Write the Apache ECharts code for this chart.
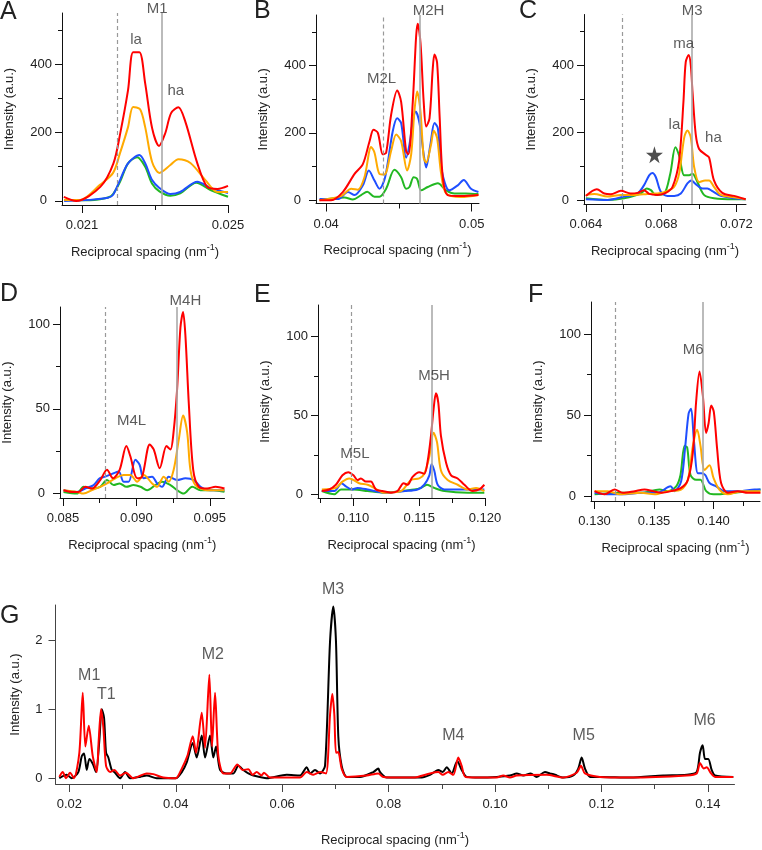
<!DOCTYPE html>
<html><head><meta charset="utf-8">
<script src="https://cdn.jsdelivr.net/npm/echarts@6/dist/echarts.min.js"></script>
<style>html,body{margin:0;padding:0;background:#fff}#c{width:762px;height:850px}</style>
</head><body><div id="c"></div>
<script>
// ---------------- DATA ----------------
// Panel A
const A_red = [[0.0205,12],[0.02084,0],[0.0215,41],[0.02186,110],[0.02205,200],[0.02226,324],[0.0224,435],[0.02257,435],[0.02273,344],[0.02292,213],[0.02311,161],[0.02328,198],[0.02344,257],[0.02364,274],[0.02383,232],[0.02416,110],[0.02443,41],[0.02471,35],[0.025,44]];
const A_orange = [[0.02051,3],[0.02095,3],[0.02149,47],[0.02185,82],[0.02204,140],[0.02226,216],[0.0224,275],[0.02259,268],[0.02273,216],[0.02292,114],[0.02312,82],[0.02342,105],[0.02364,122],[0.02397,111],[0.02438,61],[0.02471,26],[0.025,26]];
const A_blue = [[0.02051,0],[0.02122,3],[0.02171,9],[0.02185,18],[0.02204,61],[0.02226,110],[0.02257,134],[0.02273,110],[0.02292,61],[0.02312,38],[0.02342,20],[0.02369,26],[0.02416,56],[0.02452,38],[0.025,23]];
const A_green = [[0.02051,2],[0.02122,2],[0.02171,10],[0.02185,20],[0.02204,56],[0.02226,110],[0.02251,128],[0.02273,100],[0.02292,50],[0.02312,28],[0.02342,15],[0.02369,22],[0.02413,53],[0.02452,32],[0.025,12]];
const A_xTicks = [0.021, 0.025], A_xLabels = ['0.021', '0.025'], A_xMinor = [0.023];
const A_yTicks = [0, 200, 400], A_yLabels = ['0', '200', '400'], A_yMinor = [100, 300, 500];
const A_lines = [0.02197, 0.02319];
const A_notes = [['M1', 0.02306, 563], ['la', 0.02248, 470], ['ha', 0.02357, 321]];

// Panel B
const B_red = [[0.03954,0],[0.04034,0],[0.04114,24],[0.04195,78],[0.04252,107],[0.04298,175],[0.04325,209],[0.04355,200],[0.04389,136],[0.04412,141],[0.04446,253],[0.04488,326],[0.04515,292],[0.04549,146],[0.04565,136],[0.04595,292],[0.04618,487],[0.04629,524],[0.04648,467],[0.0467,292],[0.04687,219],[0.0471,243],[0.04732,389],[0.04744,433],[0.04762,409],[0.0478,243],[0.04801,68],[0.04835,15],[0.04927,12],[0.05046,15]];
const B_orange = [[0.03954,0],[0.04103,12],[0.04172,34],[0.04217,31],[0.04263,68],[0.04309,158],[0.04332,141],[0.04366,78],[0.044,76],[0.04446,146],[0.04481,195],[0.04515,175],[0.04556,88],[0.04584,136],[0.04606,263],[0.04625,323],[0.04648,263],[0.0467,126],[0.04687,112],[0.04721,166],[0.04739,206],[0.04762,185],[0.0479,78],[0.04824,20],[0.04927,9],[0.05046,15]];
const B_blue = [[0.03954,3],[0.0408,3],[0.04149,24],[0.04195,15],[0.04252,44],[0.04293,88],[0.04332,58],[0.04366,34],[0.04405,68],[0.04457,204],[0.04488,243],[0.04515,229],[0.04549,126],[0.04572,165],[0.04595,233],[0.04615,263],[0.04641,229],[0.0467,136],[0.04687,97],[0.04716,165],[0.04744,229],[0.04767,214],[0.04794,88],[0.04847,29],[0.04904,44],[0.04945,60],[0.04995,34],[0.05046,24]];
const B_green = [[0.03954,0],[0.04126,8],[0.04183,2],[0.0424,15],[0.04282,25],[0.04332,10],[0.04366,10],[0.04412,34],[0.04469,90],[0.04515,68],[0.04549,34],[0.04572,39],[0.04601,68],[0.04625,63],[0.04652,29],[0.04698,39],[0.04767,50],[0.04824,29],[0.04881,20],[0.0496,20],[0.05046,18]];
const B_xTicks = [0.04, 0.05], B_xLabels = ['0.04', '0.05'], B_xMinor = [0.045];
const B_yTicks = [0, 200, 400], B_yLabels = ['0', '200', '400'], B_yMinor = [100, 300, 500];
const B_lines = [0.04394, 0.04641];
const B_notes = [['M2H', 0.04703, 562], ['M2L', 0.0438, 359]];

// Panel C
const C_red = [[0.064,12],[0.06458,32],[0.06498,19],[0.06532,17],[0.06586,27],[0.06638,19],[0.06674,21],[0.06709,29],[0.06736,18],[0.0678,15],[0.06824,21],[0.0686,39],[0.06895,117],[0.06918,292],[0.0693,409],[0.06946,430],[0.06957,399],[0.06966,321],[0.06983,195],[0.07001,151],[0.07036,134],[0.07054,126],[0.0708,58],[0.07124,21],[0.07186,12],[0.07248,2]];
const C_orange = [[0.064,15],[0.06445,18],[0.06515,10],[0.06586,15],[0.06656,15],[0.06727,18],[0.06798,21],[0.06833,27],[0.06869,39],[0.06895,78],[0.06922,185],[0.06939,206],[0.06957,185],[0.06975,97],[0.07001,53],[0.07033,58],[0.07054,58],[0.0708,39],[0.07116,15],[0.07186,8],[0.07248,2]];
const C_blue = [[0.064,2],[0.06515,0],[0.06603,10],[0.06674,19],[0.06709,44],[0.06736,73],[0.06753,80],[0.06771,68],[0.06798,24],[0.06833,12],[0.06869,12],[0.06904,19],[0.06939,49],[0.0696,58],[0.06983,47],[0.07019,34],[0.07045,34],[0.07072,26],[0.07116,12],[0.07186,5],[0.07248,2]];
const C_green = [[0.064,5],[0.06515,0],[0.06603,5],[0.06691,19],[0.06723,34],[0.06745,29],[0.06771,15],[0.06816,19],[0.06848,78],[0.06875,156],[0.06895,131],[0.06922,73],[0.06948,73],[0.06966,78],[0.06992,53],[0.07027,15],[0.0708,5],[0.07186,2],[0.07248,2]];
const C_xTicks = [0.064, 0.068, 0.072], C_xLabels = ['0.064', '0.068', '0.072'], C_xMinor = [0.066, 0.070];
const C_yTicks = [0, 200, 400], C_yLabels = ['0', '200', '400'], C_yMinor = [100, 300, 500];
const C_lines = [0.06591, 0.0696];
const C_notes = [['M3', 0.06964, 561], ['ma', 0.06919, 464], ['la', 0.0687, 223], ['ha', 0.07077, 183]];
const C_star = [[0.06764, 134]];

// Panel D
const D_red = [[0.08504,2],[0.08561,1],[0.08606,1],[0.08652,4],[0.08698,3],[0.08754,8],[0.088,14],[0.08841,9],[0.08886,14],[0.08932,28],[0.08959,22],[0.09005,9],[0.09039,10],[0.09091,29],[0.09118,26],[0.09159,15],[0.09205,28],[0.09232,26],[0.09254,37],[0.09277,61],[0.093,98],[0.09318,107],[0.09334,93],[0.09357,53],[0.09387,14],[0.09425,4],[0.09482,3],[0.09539,4],[0.096,3]];
const D_orange = [[0.08504,2],[0.08595,1],[0.0864,0],[0.08698,2],[0.08754,4],[0.088,6],[0.08857,9],[0.08913,11],[0.08959,11],[0.09005,7],[0.0905,11],[0.09107,6],[0.09141,4],[0.09186,10],[0.0922,7],[0.09254,14],[0.09289,32],[0.09318,46],[0.09346,36],[0.09368,14],[0.09402,5],[0.09482,2],[0.096,2]];
const D_blue = [[0.08504,2],[0.08595,1],[0.08652,3],[0.08709,5],[0.0875,9],[0.08788,10],[0.08845,12],[0.0888,13],[0.08913,7],[0.08947,7],[0.08993,20],[0.09022,17],[0.0905,9],[0.09107,10],[0.09141,6],[0.09175,4],[0.0922,10],[0.09277,8],[0.09334,9],[0.09391,8],[0.09437,4],[0.09502,2],[0.096,2]];
const D_green = [[0.08504,1],[0.08595,0],[0.0864,4],[0.08698,3],[0.08754,4],[0.088,8],[0.08845,5],[0.08886,6],[0.08932,4],[0.0898,5],[0.09028,4],[0.09073,2],[0.09129,5],[0.09175,7],[0.09232,5],[0.09277,2],[0.09323,0],[0.0938,4],[0.09437,2],[0.09527,2],[0.096,1]];
const D_xTicks = [0.085, 0.090, 0.095], D_xLabels = ['0.085', '0.090', '0.095'], D_xMinor = [0.0875, 0.0925];
const D_yTicks = [0, 50, 100], D_yLabels = ['0', '50', '100'], D_yMinor = [25, 75];
const D_lines = [0.08788, 0.09277];
const D_notes = [['M4H', 0.09334, 113.8], ['M4L', 0.08967, 43.1]];

// Panel E
const E_red = [[0.10759,2],[0.10815,3],[0.10866,6],[0.10916,12],[0.1096,14],[0.110,12],[0.1103,9],[0.11056,10],[0.11094,8],[0.11132,8],[0.1117,3],[0.11221,2],[0.11285,1],[0.11335,2],[0.11381,7],[0.11411,6],[0.11449,11],[0.115,14],[0.11538,13],[0.11564,21],[0.11589,37],[0.11609,54],[0.11627,64],[0.11645,58],[0.11665,37],[0.11704,20],[0.11742,12],[0.11792,10],[0.11843,6],[0.11906,2],[0.11957,3],[0.11995,6]];
const E_orange = [[0.10759,3],[0.10866,4],[0.10916,8],[0.10967,10],[0.110,9],[0.11043,7],[0.11107,6],[0.11158,4],[0.1123,1],[0.11361,2],[0.11437,9],[0.115,10],[0.11538,13],[0.11577,24],[0.11609,39],[0.11635,33],[0.11665,15],[0.11716,9],[0.11792,6],[0.11869,3],[0.11932,4],[0.11995,2]];
const E_blue = [[0.10759,2],[0.10855,2],[0.10909,7],[0.10942,5],[0.10986,3],[0.1103,4],[0.11107,3],[0.11158,2],[0.1123,1],[0.11391,2],[0.11487,3],[0.11538,6],[0.11577,12],[0.11594,19],[0.11614,15],[0.1164,6],[0.11691,3],[0.11818,3],[0.11995,3]];
const E_green = [[0.10759,2],[0.10855,0],[0.10904,3],[0.110,3],[0.11107,2],[0.1123,1],[0.11462,3],[0.11513,4],[0.11559,6],[0.11614,4],[0.11691,2],[0.11869,1],[0.11995,1]];
const E_xTicks = [0.110, 0.115, 0.120], E_xLabels = ['0.110', '0.115', '0.120'], E_xMinor = [0.1075, 0.1125, 0.1175];
const E_yTicks = [0, 50, 100], E_yLabels = ['0', '50', '100'], E_yMinor = [25, 75];
const E_lines = [0.10982, 0.11597];
const E_notes = [['M5H', 0.11612, 75.1], ['M5L', 0.11011, 25.6]];

// Panel F
const F_red = [[0.130,3],[0.13084,1],[0.13168,4],[0.13238,2],[0.13336,3],[0.1342,4],[0.1349,3],[0.1356,2],[0.13643,3],[0.13727,5],[0.13784,10],[0.13826,27],[0.13853,58],[0.13882,77],[0.1391,62],[0.13937,39],[0.13958,45],[0.1398,56],[0.14002,52],[0.1403,29],[0.14063,8],[0.1412,2],[0.14204,3],[0.14288,2],[0.14394,2]];
const F_orange = [[0.130,3],[0.13112,3],[0.13213,1],[0.1339,2],[0.13504,1],[0.13616,3],[0.13727,4],[0.13784,10],[0.13826,31],[0.13862,41],[0.1389,31],[0.13924,16],[0.13966,19],[0.14,11],[0.14048,4],[0.1412,1],[0.14232,3],[0.14394,3]];
const F_blue = [[0.130,2],[0.13126,1],[0.13255,1],[0.1339,2],[0.1353,2],[0.13638,6],[0.13672,3],[0.13727,9],[0.13761,30],[0.1379,51],[0.13811,54],[0.13834,35],[0.13868,14],[0.13896,14],[0.13929,13],[0.13966,8],[0.14022,6],[0.14092,3],[0.14232,3],[0.14344,4],[0.14394,4]];
const F_green = [[0.130,1],[0.13213,2],[0.1339,2],[0.13546,4],[0.13616,3],[0.13686,6],[0.13722,13],[0.13756,31],[0.13778,30],[0.13806,13],[0.13853,10],[0.1389,10],[0.13938,3],[0.14,1],[0.14176,2],[0.14288,3],[0.14394,4]];
const F_xTicks = [0.130, 0.135, 0.140], F_xLabels = ['0.130', '0.135', '0.140'], F_xMinor = [0.1325, 0.1375, 0.1425];
const F_yTicks = [0, 50, 100], F_yLabels = ['0', '50', '100'], F_yMinor = [25, 75];
const F_lines = [0.13173, 0.1391];
const F_notes = [['M6', 0.13829, 90.4]];

// Panel G
const G_black = [[0.01812,0],[0.01951,0.05],[0.02045,0],[0.02169,0.09],[0.02233,0.32],[0.02276,0.36],[0.02327,0.12],[0.02376,0.28],[0.0244,0.21],[0.02502,0.09],[0.02564,0.55],[0.02609,1.0],[0.02652,0.88],[0.0269,0.37],[0.02733,0.30],[0.02797,0.12],[0.02859,0.08],[0.02953,0],[0.03047,0.09],[0.03141,0],[0.03328,0.02],[0.03454,0.04],[0.03642,0],[0.0383,0],[0.04,0],[0.04113,0.09],[0.04206,0.23],[0.04319,0.51],[0.04394,0.30],[0.04488,0.62],[0.0455,0.30],[0.04644,0.62],[0.04706,0.30],[0.04757,0.46],[0.04832,0.12],[0.04958,0.07],[0.05082,0.07],[0.05176,0.18],[0.0527,0.12],[0.05364,0.07],[0.05458,0.04],[0.05709,0],[0.06085,0.05],[0.06335,0.04],[0.06461,0.16],[0.06523,0.07],[0.06617,0.12],[0.06711,0.07],[0.06805,0.18],[0.06899,1.98],[0.06961,2.49],[0.07011,1.98],[0.07055,0.6],[0.07118,0.18],[0.07212,0.02],[0.07462,0.02],[0.07713,0.09],[0.07806,0.14],[0.07838,0.09],[0.07964,0.01],[0.08214,0.01],[0.0859,0.01],[0.08778,0.05],[0.08934,0.12],[0.09017,0.09],[0.09092,0.16],[0.09186,0.07],[0.0929,0.25],[0.09373,0.12],[0.09467,0.02],[0.09717,0.01],[0.10031,0.02],[0.10281,0.04],[0.10407,0.07],[0.10532,0.04],[0.1067,0.07],[0.10782,0.02],[0.10938,0.09],[0.11032,0.07],[0.11126,0.05],[0.11283,0.01],[0.1147,0.04],[0.11564,0.14],[0.11628,0.30],[0.1169,0.14],[0.11784,0.02],[0.11972,0.02],[0.12536,0.01],[0.13162,0.04],[0.13601,0.05],[0.13789,0.09],[0.13851,0.37],[0.13902,0.48],[0.13945,0.28],[0.14007,0.28],[0.14071,0.12],[0.14133,0.04],[0.14477,0.02]];
const G_red = [[0.01812,0.02],[0.01876,0.09],[0.01938,0],[0.02013,0.08],[0.02088,0],[0.02188,0.37],[0.02252,1.24],[0.02301,0.46],[0.02365,0.76],[0.0244,0.32],[0.02515,0.09],[0.02552,0.55],[0.02596,1.0],[0.02639,0.74],[0.0269,0.18],[0.02765,0.09],[0.02846,0.12],[0.02953,0.04],[0.03065,0.08],[0.03203,0],[0.03454,0.07],[0.03578,0.06],[0.03766,0.01],[0.04,0],[0.04113,0.14],[0.04217,0.32],[0.04319,0.61],[0.04381,0.37],[0.04488,0.95],[0.0455,0.44],[0.04631,1.50],[0.04681,0.46],[0.04738,1.24],[0.048,0.32],[0.04894,0.07],[0.0502,0.07],[0.05157,0.2],[0.05258,0.12],[0.05364,0.13],[0.05445,0.05],[0.05521,0.09],[0.0561,0.04],[0.05658,0.08],[0.05771,0.01],[0.06335,0.01],[0.06461,0.09],[0.06585,0.05],[0.06711,0.09],[0.06823,0.07],[0.06899,0.92],[0.06942,1.22],[0.0698,0.92],[0.07011,0.37],[0.07055,0.38],[0.07118,0.14],[0.07212,0.02],[0.07588,0.04],[0.07806,0.07],[0.079,0.02],[0.08464,0.01],[0.08778,0.07],[0.08934,0.09],[0.09017,0.05],[0.09122,0.09],[0.09216,0.05],[0.0931,0.30],[0.09373,0.18],[0.09448,0.02],[0.1003,0.01],[0.10155,0.04],[0.10281,0.01],[0.10407,0.04],[0.1097,0.05],[0.11283,0.01],[0.11534,0.08],[0.11615,0.18],[0.1169,0.07],[0.1197,0.02],[0.12536,0.01],[0.13601,0.04],[0.13789,0.07],[0.13851,0.22],[0.13922,0.14],[0.13977,0.16],[0.1406,0.07],[0.14133,0.02],[0.14477,0.02]];
const G_xTicks = [0.02, 0.04, 0.06, 0.08, 0.10, 0.12, 0.14], G_xLabels = ['0.02', '0.04', '0.06', '0.08', '0.10', '0.12', '0.14'], G_xMinor = [0.03, 0.05, 0.07, 0.09, 0.11, 0.13];
const G_yTicks = [0, 1, 2], G_yLabels = ['0', '1', '2'], G_yMinor = [];
const G_notes = [['M1', 0.02374, 1.487], ['T1', 0.02695, 1.213], ['M2', 0.04696, 1.787], ['M3', 0.06955, 2.734], ['M4', 0.09215, 0.622], ['M5', 0.11666, 0.622], ['M6', 0.13939, 0.83]];

// ---------------- STYLE / LAYOUT ----------------
const FONT = '"Liberation Sans", Arial, Helvetica, sans-serif';
const COL = { red: '#ff0000', orange: '#ffaa00', blue: '#1f4fff', green: '#22b822', black: '#000000' };
const TXT = '#222';
const STAR = 'path://M50,0 L61,35 L98,35 L68,57 L79,91 L50,70 L21,91 L32,57 L2,35 L39,35 Z';

const panels = [
  { letter: 'A', lp: [0, 12], grid: { left: 62, top: 13, width: 166, height: 192 }, x: [0.02045, 0.025], y: [-12, 550],
    xt: A_xTicks, xl: A_xLabels, xm: A_xMinor, yt: A_yTicks, yl: A_yLabels, ym: A_yMinor,
    curves: [['green', A_green], ['blue', A_blue], ['orange', A_orange], ['red', A_red]], lines: A_lines, notes: A_notes },
  { letter: 'B', lp: [254, 11], grid: { left: 316, top: 15, width: 163, height: 188.5 }, x: [0.0393, 0.0505], y: [-10, 550],
    xt: B_xTicks, xl: B_xLabels, xm: B_xMinor, yt: B_yTicks, yl: B_yLabels, ym: B_yMinor,
    curves: [['green', B_green], ['blue', B_blue], ['orange', B_orange], ['red', B_red]], lines: B_lines, notes: B_notes },
  { letter: 'C', lp: [519, 11], grid: { left: 584, top: 14.5, width: 162, height: 189.5 }, x: [0.0639, 0.0725], y: [-12, 550],
    xt: C_xTicks, xl: C_xLabels, xm: C_xMinor, yt: C_yTicks, yl: C_yLabels, ym: C_yMinor,
    curves: [['green', C_green], ['blue', C_blue], ['orange', C_orange], ['red', C_red]], lines: C_lines, notes: C_notes, star: C_star },
  { letter: 'D', lp: [0, 294], grid: { left: 60, top: 307, width: 164.5, height: 191 }, x: [0.0848, 0.096], y: [-2.6, 110],
    xt: D_xTicks, xl: D_xLabels, xm: D_xMinor, yt: D_yTicks, yl: D_yLabels, ym: D_yMinor,
    curves: [['green', D_green], ['blue', D_blue], ['orange', D_orange], ['red', D_red]], lines: D_lines, notes: D_notes },
  { letter: 'E', lp: [254, 295], grid: { left: 318, top: 305, width: 167, height: 193 }, x: [0.1073, 0.120], y: [-2.4, 120],
    xt: E_xTicks, xl: E_xLabels, xm: E_xMinor, yt: E_yTicks, yl: E_yLabels, ym: E_yMinor,
    curves: [['green', E_green], ['blue', E_blue], ['orange', E_orange], ['red', E_red]], lines: E_lines, notes: E_notes },
  { letter: 'F', lp: [528, 295], grid: { left: 591, top: 302, width: 169, height: 199 }, x: [0.1297, 0.1439], y: [-3.1, 120],
    xt: F_xTicks, xl: F_xLabels, xm: F_xMinor, yt: F_yTicks, yl: F_yLabels, ym: F_yMinor,
    curves: [['green', F_green], ['blue', F_blue], ['orange', F_orange], ['red', F_red]], lines: F_lines, notes: F_notes },
  { letter: 'G', lp: [0, 616], grid: { left: 55.5, top: 605, width: 679, height: 188 }, x: [0.0174, 0.145], y: [-0.083, 2.51],
    xt: G_xTicks, xl: G_xLabels, xm: G_xMinor, yt: G_yTicks, yl: G_yLabels, ym: G_yMinor,
    curves: [['black', G_black], ['red', G_red]], lines: null, notes: G_notes, big: true }
];

function lab(ticks, labels, padZero) {
  return function (v) {
    for (let i = 0; i < ticks.length; i++) if (Math.abs(ticks[i] - v) < 1e-9) {
      return (padZero && ticks[i] === 0) ? '{z|' + labels[i] + '}' : labels[i];
    }
    return '';
  };
}

const grids = [], xAxes = [], yAxes = [], series = [], graphics = [];
panels.forEach((p, gi) => {
  const axisCol = p.big ? '#444' : '#111';
  grids.push(Object.assign({ containLabel: false }, p.grid));
  const xName = 'Reciprocal spacing (nm{s|-1})';
  const nameStyle = { fontSize: 13, color: TXT, fontFamily: FONT, lineHeight: 18,
    rich: { s: { fontSize: 9, lineHeight: 9, verticalAlign: 'top', color: TXT, fontFamily: FONT } } };
  xAxes.push({ type: 'value', gridIndex: gi, min: p.x[0], max: p.x[1], position: 'bottom',
    axisLine: { show: true, onZero: false, lineStyle: { color: axisCol, width: 1 } },
    axisTick: { show: true, length: 8, customValues: p.xt, lineStyle: { color: axisCol } },
    axisLabel: { show: true, customValues: p.xt, formatter: lab(p.xt, p.xl, false), margin: 14, fontSize: 13, color: TXT, fontFamily: FONT },
    splitLine: { show: false },
    name: xName, nameLocation: 'middle', nameGap: p.big ? 47 : 38, nameTextStyle: nameStyle });
  xAxes.push({ type: 'value', gridIndex: gi, min: p.x[0], max: p.x[1], position: 'bottom',
    axisLine: { show: false, onZero: false },
    axisTick: { show: p.xm.length > 0, length: 5, customValues: p.xm.length ? p.xm : [p.x[0]], lineStyle: { color: axisCol } },
    axisLabel: { show: false }, splitLine: { show: false } });
  yAxes.push({ type: 'value', gridIndex: gi, min: p.y[0], max: p.y[1], position: 'left',
    axisLine: { show: true, onZero: false, lineStyle: { color: axisCol, width: 1 } },
    axisTick: { show: true, length: 7, customValues: p.yt, lineStyle: { color: axisCol } },
    axisLabel: { show: true, customValues: p.yt, formatter: lab(p.yt, p.yl, !p.big), margin: p.big ? 13 : 10, fontSize: 13, color: TXT, fontFamily: FONT,
      rich: { z: { fontSize: 13, color: TXT, fontFamily: FONT, padding: [0, 5, 0, 0] } } },
    splitLine: { show: false },
    name: 'Intensity (a.u.)', nameLocation: 'middle', nameGap: p.big ? 34 : 46,
    nameTextStyle: { fontSize: 13, color: TXT, fontFamily: FONT } });
  yAxes.push({ type: 'value', gridIndex: gi, min: p.y[0], max: p.y[1], position: 'left',
    axisLine: { show: false, onZero: false },
    axisTick: { show: p.ym.length > 0, length: 4, customValues: p.ym.length ? p.ym : [p.y[0]], lineStyle: { color: axisCol } },
    axisLabel: { show: false }, splitLine: { show: false } });

  const xi = gi * 2, yi = gi * 2;
  p.curves.forEach(([c, data]) => {
    series.push({ type: 'line', xAxisIndex: xi, yAxisIndex: yi, data: data, symbol: 'none', showSymbol: false,
      smooth: p.big ? 0.25 : 0.3, silent: true, animation: false,
      lineStyle: { color: COL[c], width: 2 }, itemStyle: { color: COL[c] } });
  });
  if (p.lines) {
    series.push({ type: 'line', xAxisIndex: xi, yAxisIndex: yi, data: [], symbol: 'none', silent: true, animation: false,
      markLine: { silent: true, precision: 8, symbol: ['none', 'none'], animation: false, label: { show: false },
        data: [
          { xAxis: p.lines[0], lineStyle: { type: [4, 3], color: '#999', width: 1.2 } },
          { xAxis: p.lines[1], lineStyle: { type: 'solid', color: '#aaa', width: 1.6 } }
        ] } });
  }
  series.push({ type: 'scatter', xAxisIndex: xi, yAxisIndex: yi, clip: false, silent: true, animation: false,
    symbolSize: 1, itemStyle: { color: 'rgba(0,0,0,0)' }, z: 5,
    label: { show: true, position: 'inside', formatter: '{b}', fontSize: p.big ? 16 : 15, color: '#333', fontFamily: FONT },
    data: p.notes.map(n => ({ name: n[0], value: [n[1], n[2]] })) });
  if (p.star) {
    series.push({ type: 'scatter', xAxisIndex: xi, yAxisIndex: yi, clip: false, silent: true, animation: false,
      symbol: STAR, symbolSize: 17, itemStyle: { color: '#222' }, z: 5, data: p.star });
  }
  graphics.push({ type: 'text', x: p.lp[0], y: p.lp[1], silent: true,
    style: { text: p.letter, fontSize: 25, fontFamily: FONT, fill: '#222', verticalAlign: 'middle', align: 'left' } });
});

const chart = echarts.init(document.getElementById('c'), null, { renderer: 'canvas' });
chart.setOption({
  animation: false,
  backgroundColor: '#fff',
  grid: grids, xAxis: xAxes, yAxis: yAxes, series: series, graphic: graphics
});
</script></body></html>
